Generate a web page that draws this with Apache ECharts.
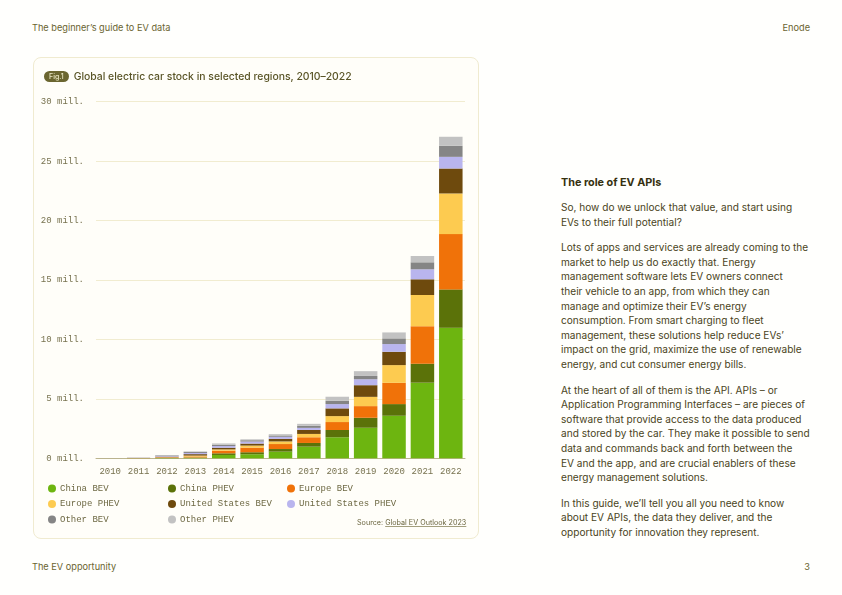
<!DOCTYPE html>
<html>
<head>
<meta charset="utf-8">
<script src="https://cdn.jsdelivr.net/npm/echarts@6/dist/echarts.min.js"></script>
<style>
  html, body { margin: 0; padding: 0; background: #fffffd; }
  body { width: 842px; height: 595px; position: relative; overflow: hidden; font-family: Inter, "Noto Sans", sans-serif; color: #4c4724; }
  .hdr { position: absolute; font-size: 9.2px; color: #6a6430; line-height: 12px; }
  .card { position: absolute; left: 33px; top: 57px; width: 444px; height: 480px; border: 1px solid #f0ebd0; border-radius: 8px; background: #fffef9; }
  #chart { position: absolute; left: 33px; top: 57px; width: 446px; height: 482px; }
  .title { position: absolute; left: 44px; top: 70px; font-size: 10.4px; font-weight: 500; color: #5a5527; white-space: nowrap; line-height: 14px; }
  .badge { display: inline-block; background: #6b6630; color: #ece8c6; font-size: 7px; border-radius: 6px; padding: 0 5px; line-height: 11px; margin-right: 5px; vertical-align: 1px; }
  .source { position: absolute; left: 357px; top: 518px; font-size: 7.2px; color: #6b6640; white-space: nowrap; }
  .source u { text-decoration-color: #a39f7e; }
  .text { position: absolute; left: 561px; top: 176px; width: 260px; font-size: 10.1px; line-height: 14.6px; color: #4a4422; white-space: nowrap; }
  .text h3 { margin: 0 0 10px 0; font-size: 10.8px; font-weight: 700; color: #36310f; line-height: 14px; }
  .text p { margin: 0 0 11px 0; }
</style>
</head>
<body>
<div class="hdr" style="left:32px;top:22px;">The beginner’s guide to EV data</div>
<div class="hdr" style="right:32px;top:22px;">Enode</div>
<div class="hdr" style="left:32px;top:561px;">The EV opportunity</div>
<div class="hdr" style="right:32px;top:561px;">3</div>

<div class="card"></div>
<div id="chart"></div>
<div class="title"><span class="badge">Fig.1</span>Global electric car stock in selected regions, 2010–2022</div>
<div class="source">Source: <u>Global EV Outlook 2023</u></div>

<div class="text">
  <h3>The role of EV APIs</h3>
  <p>So, how do we unlock that value, and start using<br>EVs to their full potential?</p>
  <p>Lots of apps and services are already coming to the<br>market to help us do exactly that. Energy<br>management software lets EV owners connect<br>their vehicle to an app, from which they can<br>manage and optimize their EV’s energy<br>consumption. From smart charging to fleet<br>management, these solutions help reduce EVs’<br>impact on the grid, maximize the use of renewable<br>energy, and cut consumer energy bills.</p>
  <p>At the heart of all of them is the API. APIs – or<br>Application Programming Interfaces – are pieces of<br>software that provide access to the data produced<br>and stored by the car. They make it possible to send<br>data and commands back and forth between the<br>EV and the app, and are crucial enablers of these<br>energy management solutions.</p>
  <p>In this guide, we’ll tell you all you need to know<br>about EV APIs, the data they deliver, and the<br>opportunity for innovation they represent.</p>
</div>

<script>
// years on the x axis
const years = ["2010", "2011", "2012", "2013", "2014", "2015", "2016", "2017", "2018", "2019", "2020", "2021", "2022"];

// stock in millions
const chinaBev   = [0.002, 0.01, 0.02, 0.05, 0.28, 0.34, 0.56, 0.98, 1.77, 2.57, 3.58, 6.36, 10.98];
const chinaPhev  = [0, 0.001, 0.01, 0.02, 0.14, 0.17, 0.22, 0.31, 0.61, 0.84, 0.98, 1.60, 3.23];
const europeBev  = [0.002, 0.01, 0.04, 0.08, 0.22, 0.39, 0.42, 0.48, 0.67, 0.98, 1.79, 3.15, 4.65];
const europePhev = [0, 0.002, 0.02, 0.08, 0.11, 0.17, 0.22, 0.28, 0.50, 0.78, 1.49, 2.63, 3.42];
const usBev      = [0.002, 0.01, 0.05, 0.12, 0.14, 0.17, 0.22, 0.34, 0.65, 0.98, 1.12, 1.32, 2.10];
const usPhev     = [0, 0.01, 0.05, 0.10, 0.14, 0.17, 0.17, 0.17, 0.36, 0.50, 0.65, 0.84, 0.98];
const otherBev   = [0.003, 0.01, 0.05, 0.08, 0.11, 0.11, 0.11, 0.17, 0.28, 0.28, 0.48, 0.59, 0.93];
const otherPhev  = [0, 0, 0.01, 0.05, 0.11, 0.08, 0.11, 0.17, 0.34, 0.40, 0.50, 0.53, 0.76];

const seriesNames = ["China BEV", "China PHEV", "Europe BEV", "Europe PHEV", "United States BEV", "United States PHEV", "Other BEV", "Other PHEV"];
const seriesValues = [chinaBev, chinaPhev, europeBev, europePhev, usBev, usPhev, otherBev, otherPhev];
const colors = ["#6db510", "#5b7209", "#f07209", "#fdcb50", "#6e4a0d", "#b9b5ee", "#858585", "#c2c2c2"];

const mono = "'Liberation Mono', 'DejaVu Sans Mono', monospace";

let chart = echarts.init(document.getElementById("chart"));

let series = [];
for (let i = 0; i < seriesNames.length; i++) {
    series.push({
        name: seriesNames[i],
        type: "bar",
        stack: "stock",
        data: seriesValues[i],
        barWidth: 23.5,
        itemStyle: { color: colors[i] },
        emphasis: { disabled: true }
    });
}

let legendBase = {
    orient: "vertical",
    icon: "circle",
    itemWidth: 8,
    itemHeight: 8,
    itemGap: 6.5,
    top: 422,
    textStyle: { fontFamily: mono, fontSize: 9, color: "#6e6944", padding: [0, 0, 0, -1] }
};

chart.setOption({
    animation: false,
    color: colors,
    grid: { left: 63, right: 14, top: 44.7, height: 356.6 },
    legend: [
        Object.assign({}, legendBase, { left: 10, data: ["China BEV", "Europe PHEV", "Other BEV"] }),
        Object.assign({}, legendBase, { left: 130, data: ["China PHEV", "United States BEV", "Other PHEV"] }),
        Object.assign({}, legendBase, { left: 249, data: ["Europe BEV", "United States PHEV"] })
    ],
    xAxis: {
        type: "category",
        data: years,
        axisTick: { show: false },
        axisLine: { lineStyle: { color: "#bcb58e", width: 1 } },
        axisLabel: { fontFamily: mono, fontSize: 9, color: "#77724f", margin: 9 }
    },
    yAxis: {
        type: "value",
        min: 0,
        max: 30,
        interval: 5,
        axisLabel: { fontFamily: mono, fontSize: 9, color: "#77724f", margin: 12, formatter: "{value} mill." },
        splitLine: { lineStyle: { color: "#f1ecd0" } }
    },
    series: series
});
</script>
</body>
</html>
